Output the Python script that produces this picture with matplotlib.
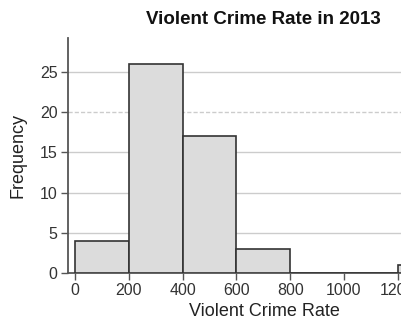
import matplotlib
matplotlib.use("Agg")
import matplotlib.pyplot as plt
import numpy as np

bin_edges = [0, 200, 400, 600, 800, 1000, 1200, 1400]
counts = [4, 26, 17, 3, 0, 0, 1]
x_ticks = [0, 200, 400, 600, 800, 1000, 1200, 1400]
y_ticks = [0, 5, 10, 15, 20, 25]
title = "Violent Crime Rate in 2013"
xlabel = "Violent Crime Rate"
ylabel = "Frequency"

plt.rcParams['font.family'] = ['Liberation Sans', 'DejaVu Sans']

W, H = 402, 324
fig = plt.figure(figsize=(W/100, H/100), dpi=100)
left, right_px, top, bottom = 68, 465, 38, 273
ax = fig.add_axes([left/W, (H-bottom)/H, (right_px-left)/W, (bottom-top)/H])

widths = np.diff(bin_edges)
ax.bar(bin_edges[:-1], counts, width=widths, align='edge', color='#dcdcdc',
       edgecolor='#333333', linewidth=1.2, zorder=3)

ax.set_xlim(-26, 1450)
ax.set_ylim(0, 29.2)
ax.set_xticks(x_ticks)
ax.set_yticks(y_ticks)
ax.set_xticklabels([str(v) for v in x_ticks], fontsize=11.5, color='#333333')
ax.set_yticklabels([str(v) for v in y_ticks], fontsize=11.5, color='#333333')
for y in y_ticks[1:]:
    ax.axhline(y, color='#cccccc', linewidth=1.0, zorder=1,
               linestyle=(0, (3, 1.5)) if y == 20 else '-')

for s in ['top', 'right']:
    ax.spines[s].set_visible(False)
for s in ['left', 'bottom']:
    ax.spines[s].set_color('#555555')
    ax.spines[s].set_linewidth(1.3)
ax.tick_params(axis='both', length=5, width=1, color='#555555', pad=2.5)

fig.text(263/W, 1-19/H, title, ha='center', va='center', fontsize=13.5,
         fontweight='bold', color='#111111')
fig.text(264/W, 1-311/H, xlabel, ha='center', va='center', fontsize=13,
         color='#222222')
fig.text(18/W, 1-155/H, ylabel, ha='center', va='center', fontsize=13,
         rotation=90, color='#222222')

fig.savefig("out.png", dpi=100)
